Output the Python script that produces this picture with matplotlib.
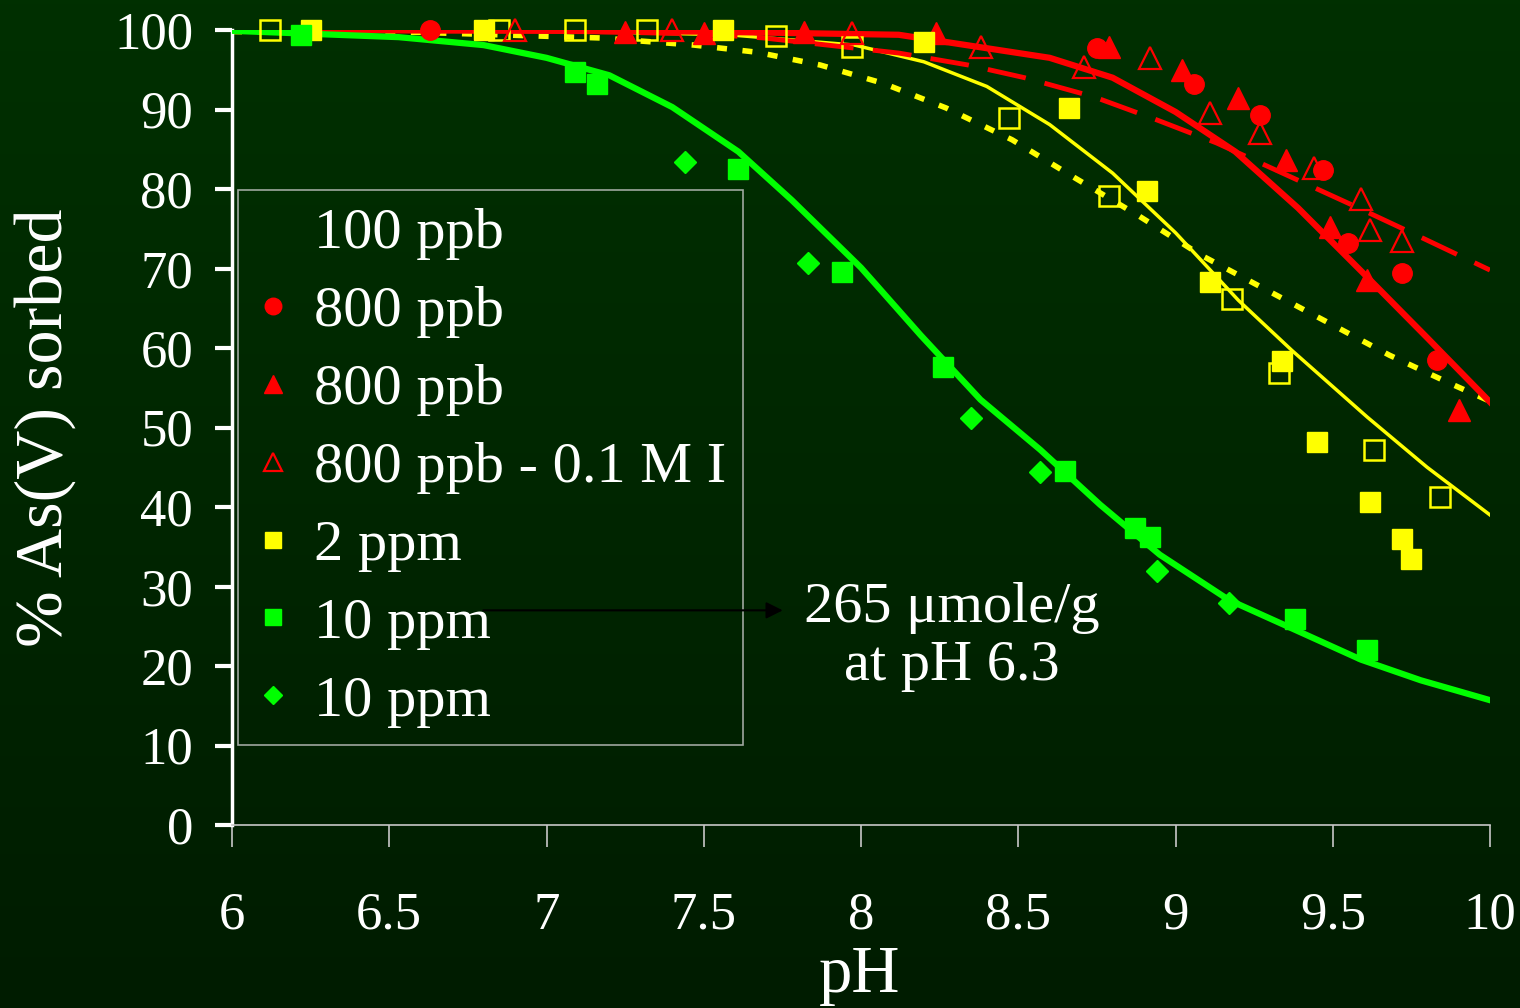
import numpy as np
import matplotlib
matplotlib.use("Agg")
import matplotlib.pyplot as plt
from matplotlib.lines import Line2D

plt.rcParams['font.family'] = ['Liberation Serif', 'DejaVu Serif']

DPI = 100
white = '#FFFFFF'
grey = '#C8C8C8'
red = '#FF0000'
yellow = '#FFFF00'
green = '#00FF00'

# measured points
ph_100ppb = [6.12, 6.85, 7.09, 7.32, 7.73, 7.97, 8.47, 8.79, 9.18, 9.33, 9.63, 9.84]
pct_100ppb = [100, 100, 100, 100, 99.2, 97.9, 88.9, 79.1, 66.2, 56.9, 47.2, 41.3]

ph_800_circ = [6.63, 8.75, 9.06, 9.27, 9.47, 9.55, 9.72, 9.83]
pct_800_circ = [100, 97.7, 93.2, 89.3, 82.4, 73.2, 69.4, 58.5]

ph_800_tri = [7.25, 7.50, 7.82, 8.24, 8.79, 9.02, 9.20, 9.35, 9.49, 9.61, 9.90]
pct_800_tri = [99.8, 99.6, 99.8, 99.6, 97.9, 95.0, 91.4, 83.6, 75.2, 68.6, 52.2]

ph_800_ionic = [6.90, 7.40, 7.97, 8.38, 8.71, 8.92, 9.11, 9.27, 9.44, 9.59, 9.62, 9.72]
pct_800_ionic = [100, 100, 99.6, 97.9, 95.4, 96.5, 89.6, 87.0, 82.6, 78.7, 74.8, 73.5]

ph_2ppm = [6.25, 6.80, 7.56, 8.20, 8.66, 8.91, 9.11, 9.34, 9.45, 9.62, 9.72, 9.75]
pct_2ppm = [100, 100, 100, 98.5, 90.2, 79.7, 68.3, 58.4, 48.2, 40.6, 36.0, 33.5]

ph_10ppm_sq = [6.22, 7.09, 7.16, 7.61, 7.94, 8.26, 8.65, 8.87, 8.92, 9.38, 9.61]
pct_10ppm_sq = [99.4, 94.7, 93.2, 82.5, 69.6, 57.6, 44.5, 37.4, 36.2, 25.9, 22.0]

ph_10ppm_dia = [7.44, 7.83, 8.35, 8.57, 8.94, 9.17]
pct_10ppm_dia = [83.4, 70.7, 51.2, 44.4, 31.9, 27.9]

# model curves
fit_100ppb_ph = [6.0, 6.6, 7.17, 7.47, 7.67, 7.87, 8.07, 8.27, 8.48, 8.68, 8.88,
                 9.08, 9.28, 9.49, 9.68, 9.87, 10.0]
fit_100ppb_pct = [99.8, 99.7, 99.0, 98.1, 97.2, 95.6, 93.3, 90.2, 86.2, 81.4, 76.7,
                  71.7, 67.5, 63.1, 59.1, 55.6, 53.3]

fit_800_ph = [6.0, 7.0, 7.5, 8.12, 8.60, 8.80, 9.00, 9.19, 9.39, 9.61, 9.80, 10.0]
fit_800_pct = [100, 99.9, 99.8, 99.4, 96.5, 94.0, 89.7, 84.7, 77.6, 68.9, 61.3, 53.2]

fit_800_ionic_ph = [6.0, 7.0, 7.5, 7.69, 8.12, 8.34, 8.52, 8.74, 8.94, 9.13, 9.34,
                    9.55, 9.75, 10.0]
fit_800_ionic_pct = [100, 99.9, 99.5, 99.0, 97.1, 95.6, 94.0, 91.6, 88.7, 85.8, 82.0,
                     78.2, 74.5, 69.8]

fit_2ppm_ph = [6.0, 7.0, 7.58, 7.98, 8.20, 8.40, 8.60, 8.80, 9.00, 9.20, 9.37,
               9.61, 9.80, 10.0]
fit_2ppm_pct = [100, 99.9, 99.4, 98.1, 96.0, 92.9, 88.1, 82.0, 74.5, 66.0, 59.7,
                51.3, 45.0, 39.0]

fit_10ppm_ph = [6.0, 6.53, 6.80, 7.00, 7.20, 7.40, 7.61, 7.78, 8.00, 8.19, 8.38,
                8.57, 8.76, 8.95, 9.17, 9.40, 9.59, 9.78, 10.0]
fit_10ppm_pct = [99.9, 99.1, 98.1, 96.5, 94.3, 90.3, 84.7, 78.6, 70.1, 61.6, 53.5,
                 47.2, 40.3, 34.0, 28.3, 24.2, 20.8, 18.2, 15.7]

legend_labels = ['100 ppb', '800 ppb', '800 ppb', '800 ppb - 0.1 M I',
                 '2 ppm', '10 ppm', '10 ppm']

fig = plt.figure(figsize=(15.2, 10.08), dpi=DPI)

# dark green backdrop, slightly lighter at the top
bg = fig.add_axes([0, 0, 1, 1], zorder=-10)
grad = np.linspace(1, 0, 256).reshape(-1, 1)
bg.imshow(grad, aspect='auto', extent=[0, 1, 0, 1],
          cmap=matplotlib.colors.LinearSegmentedColormap.from_list(
              'bg', ['#001C00', '#003000']))
bg.axis('off')

ax = fig.add_axes([232 / 1520, 183 / 1008, 1258 / 1520, 795 / 1008])
ax.set_facecolor('none')

# fitted curves
ax.plot(fit_100ppb_ph, fit_100ppb_pct, color=yellow, lw=4, ls=(0, (1.8, 2.8)),
        dash_capstyle='butt', zorder=2)
ax.plot(fit_2ppm_ph, fit_2ppm_pct, color=yellow, lw=2.5, zorder=2)
ax.plot(fit_800_ionic_ph, fit_800_ionic_pct, color=red, lw=3.5, ls=(0, (8, 4)),
        dash_capstyle='butt', zorder=2)
ax.plot(fit_800_ph, fit_800_pct, color=red, lw=4.5, zorder=3)
ax.plot(fit_10ppm_ph, fit_10ppm_pct, color=green, lw=4.5, zorder=3)

# measured points
ms = 14
ax.plot(ph_100ppb, pct_100ppb, ls='none', marker='s', ms=ms, mfc='none',
        mec=yellow, mew=1.8, zorder=4, clip_on=False)
ax.plot(ph_800_circ, pct_800_circ, ls='none', marker='o', ms=ms, color=red,
        zorder=4, clip_on=False)
ax.plot(ph_800_tri, pct_800_tri, ls='none', marker='^', ms=ms + 2, color=red,
        zorder=4, clip_on=False)
ax.plot(ph_800_ionic, pct_800_ionic, ls='none', marker='^', ms=ms + 2, mfc='none',
        mec=red, mew=1.6, zorder=4, clip_on=False)
ax.plot(ph_2ppm, pct_2ppm, ls='none', marker='s', ms=ms, color=yellow,
        zorder=5, clip_on=False)
ax.plot(ph_10ppm_sq, pct_10ppm_sq, ls='none', marker='s', ms=ms, color=green,
        zorder=5, clip_on=False)
ax.plot(ph_10ppm_dia, pct_10ppm_dia, ls='none', marker='D', ms=ms - 3, color=green,
        zorder=5, clip_on=False)

ax.set_xlim(6, 10)
ax.set_ylim(0, 100)
ax.set_xticks([6, 6.5, 7, 7.5, 8, 8.5, 9, 9.5, 10])
ax.set_xticklabels(['6', '6.5', '7', '7.5', '8', '8.5', '9', '9.5', '10'])
ax.set_yticks(range(0, 101, 10))

ax.spines['top'].set_visible(False)
ax.spines['right'].set_visible(False)
ax.spines['left'].set_color(white)
ax.spines['left'].set_linewidth(2.5)
ax.spines['bottom'].set_color(grey)
ax.spines['bottom'].set_linewidth(1.2)
ax.tick_params(axis='y', colors=white, labelsize=38, length=12, width=3,
               direction='out', pad=16)
ax.tick_params(axis='x', colors=grey, labelcolor=white, labelsize=38,
               length=16, width=1.2, direction='out', pad=32)

fig.text(45 / 1520, 1 - 428 / 1008, '% As(V) sorbed', color=white, fontsize=49,
         rotation=90, ha='center', va='center')
fig.text(860 / 1520, 1 - 975 / 1008, 'pH', color=white, fontsize=48,
         ha='center', va='center')

# legend, the 100 ppb entry carries no symbol
handles = [
    Line2D([], [], ls='none', marker=None),
    Line2D([], [], ls='none', marker='o', ms=ms, color=red),
    Line2D([], [], ls='none', marker='^', ms=ms + 2, color=red),
    Line2D([], [], ls='none', marker='^', ms=ms + 2, mfc='none', mec=red, mew=1.6),
    Line2D([], [], ls='none', marker='s', ms=ms, color=yellow),
    Line2D([], [], ls='none', marker='s', ms=ms, color=green),
    Line2D([], [], ls='none', marker='D', ms=ms - 3, color=green),
]
leg = ax.legend(handles, legend_labels, loc='upper left',
                bbox_to_anchor=(6 / 1258, (825 - 190) / 795), borderaxespad=0,
                fontsize=42, markerscale=0.85, labelspacing=0.43,
                handlelength=0.6, handletextpad=0.4, borderpad=0.3)
leg.get_frame().set_facecolor('none')
leg.get_frame().set_edgecolor(grey)
leg.get_frame().set_linewidth(1.2)
leg.get_frame().set_boxstyle('square', pad=0)
for t in leg.get_texts():
    t.set_color(white)

ax.annotate('', xy=(7.76, 27.0), xytext=(6.79, 27.0),
            arrowprops=dict(arrowstyle='-|>', color='black', lw=1.5,
                            mutation_scale=25), zorder=6)
ax.text(8.29, 23.6, '265 \u03bcmole/g\nat pH 6.3', color=white, fontsize=42,
        ha='center', va='center', linespacing=1.15, zorder=6)

fig.savefig('out.png', dpi=DPI, facecolor='#002600')
